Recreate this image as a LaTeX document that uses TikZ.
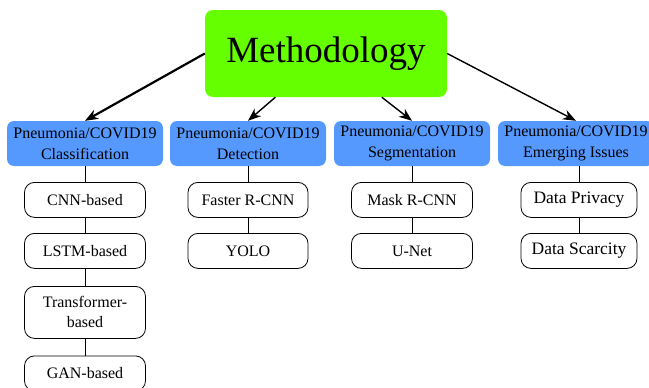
\documentclass[tikz,border=0pt]{standalone}
\usepackage{fontspec}
\setmainfont{Liberation Serif}
\usetikzlibrary{arrows.meta}
\definecolor{mgreen}{RGB}{102,255,0}
\definecolor{mblue}{RGB}{85,153,255}
\begin{document}
\begin{tikzpicture}[x=1pt,y=-1pt,
 topbox/.style={fill=mgreen, rounded corners=8pt, minimum width=242pt, minimum height=87pt, font=\fontsize{37}{44}\selectfont, inner sep=0pt},
 catbox/.style={fill=mblue, rounded corners=7pt, minimum width=156pt, minimum height=45pt, inner sep=0pt, align=center, font=\fontsize{16}{21}\selectfont},
 leaf/.style={draw=black, line width=0.8pt, rounded corners=10pt, minimum width=121pt, minimum height=35pt, inner sep=0pt, align=center, font=\fontsize{16}{20}\selectfont, anchor=north},
 arr/.style={-{Stealth[length=13pt,width=10pt,inset=4pt]}, line width=1.4pt},
 link/.style={line width=1pt}]
\useasboundingbox (0,0) rectangle (649,388);
\clip (0,0) rectangle (649,388);
\node[topbox] (m) at (326,53.5) {Methodology};
\node[catbox] (c1) at (85,143.5) {Pneumonia/COVID19\\Classification};
\node[catbox] (c2) at (248,143.5) {Pneumonia/COVID19\\Detection};
\node[catbox] (c3) at (412,143.5) {Pneumonia/COVID19\\Segmentation};
\node[catbox] (c4) at (576,143.5) {Pneumonia/COVID19\\Emerging Issues};
\node[leaf] (a1) at (85,182) {CNN-based};
\node[leaf] (a2) at (85,233) {LSTM-based};
\node[leaf, minimum height=52pt] (a3) at (85,286) {Transformer-\\based};
\node[leaf] (a4) at (85,355.5) {GAN-based};
\node[leaf, minimum width=120pt] (b1) at (248,182) {Faster R-CNN};
\node[leaf, minimum width=120pt] (b2) at (248,233) {YOLO};
\node[leaf] (d1) at (412,182) {Mask R-CNN};
\node[leaf] (d2) at (412,233) {U-Net};
\node[leaf, minimum width=116pt, font=\fontsize{17.5}{21}\selectfont] (e1) at (579,182) {Data Privacy};
\node[leaf, minimum width=116pt, font=\fontsize{17.5}{21}\selectfont] (e2) at (579,233) {Data Scarcity};
\draw[arr, line width=2.2pt] (m.west) -- (c1.north);
\draw[arr] (m) -- (c2.north);
\draw[arr] (m) -- (c3.north);
\draw[arr] (m.east) -- (c4.north);
\draw[link] (c1.south) -- (a1.north);
\draw[link] (a1.south) -- (a2.north);
\draw[link] (a2.south) -- (a3.north);
\draw[link] (a3.south) -- (a4.north);
\draw[link] (c2.south) -- (b1.north);
\draw[link] (b1.south) -- (b2.north);
\draw[link] (c3.south) -- (d1.north);
\draw[link] (d1.south) -- (d2.north);
\draw[link] (c4.south -| e1.north) -- (e1.north);
\draw[link] (e1.south) -- (e2.north);
\end{tikzpicture}
\end{document}
